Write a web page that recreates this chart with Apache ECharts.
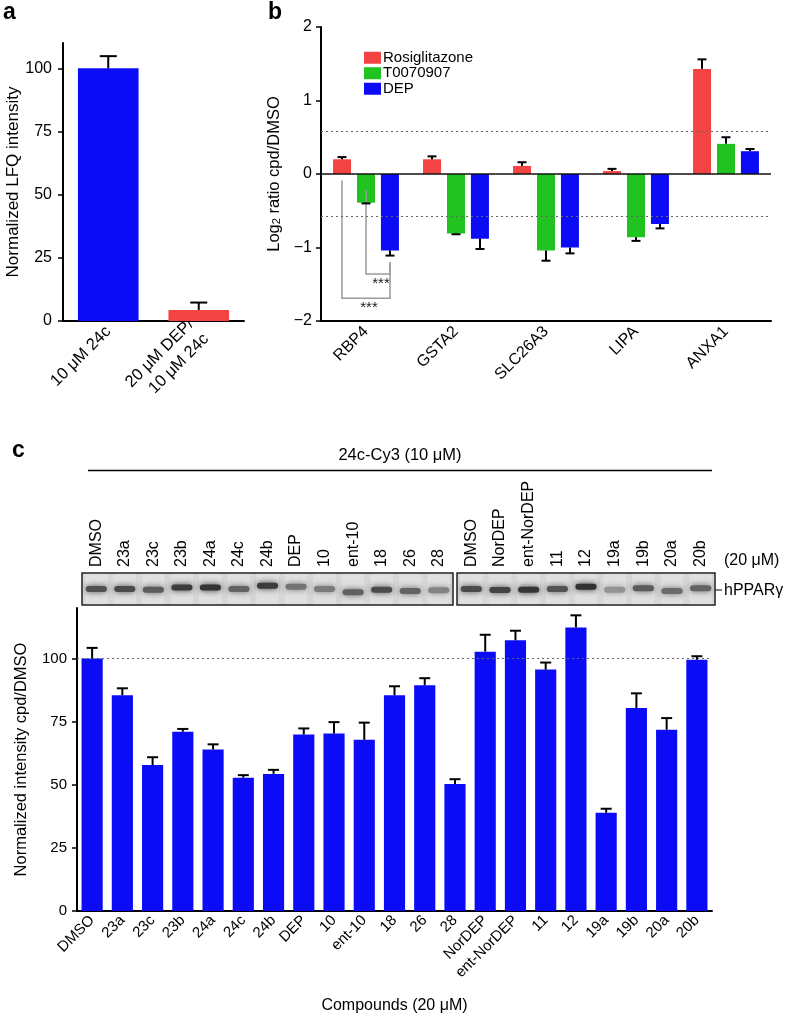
<!DOCTYPE html>
<html><head><meta charset="utf-8">
<script src="https://cdn.jsdelivr.net/npm/echarts@6/dist/echarts.min.js"></script>
<style>html,body{margin:0;padding:0;background:#fff}#c{width:788px;height:1015px}</style>
</head><body><div id="c"></div>
<script>
// ---------- DATA ----------
// Panel a
const aCats = ['10 μM 24c', '20 μM DEP/\n10 μM 24c'];
const aValues = [100, 4.4];
const aErrTop = [104.8, 7.3];
// Panel b
const bCats = ['RBP4', 'GSTA2', 'SLC26A3', 'LIPA', 'ANXA1'];
const bSeriesNames = ['Rosiglitazone', 'T0070907', 'DEP'];
const bRosi = [0.20, 0.20, 0.11, 0.04, 1.43];
const bRosiErr = [0.23, 0.24, 0.16, 0.07, 1.56];
const bT007 = [-0.39, -0.81, -1.04, -0.86, 0.41];
const bT007Err = [-0.40, -0.82, -1.18, -0.91, 0.50];
const bDEP = [-1.04, -0.88, -1.00, -0.68, 0.31];
const bDEPErr = [-1.11, -1.02, -1.08, -0.74, 0.34];
const bThreshold = 0.585; // log2(1.5)
// significance brackets: [category, fromSeries, toSeries, startY, bottomY, endY, label]
const bBrackets = [
  [0, 0, 2, -0.09, -1.69, -1.20, '***'],
  [0, 1, 2, -0.22, -1.36, -1.20, '***']
];
// Panel c gel
const gelLeftLanes = ['DMSO','23a','23c','23b','24a','24c','24b','DEP','10','ent-10','18','26','28'];
const gelLeftIntensity = [0.72,0.75,0.65,0.85,0.9,0.6,0.85,0.5,0.45,0.62,0.75,0.6,0.4];
const gelLeftPos = [0.5,0.5,0.48,0.55,0.55,0.5,0.6,0.57,0.5,0.4,0.48,0.44,0.46];
const gelRightLanes = ['DMSO','NorDEP','ent-NorDEP','11','12','19a','19b','20a','20b'];
const gelRightIntensity = [0.75,0.8,0.88,0.7,0.92,0.3,0.65,0.55,0.6];
const gelRightPos = [0.5,0.47,0.48,0.5,0.57,0.48,0.52,0.44,0.52];
// Panel c bars
const cCats = ['DMSO','23a','23c','23b','24a','24c','24b','DEP','10','ent-10','18','26','28','NorDEP','ent-NorDEP','11','12','19a','19b','20a','20b'];
const cValues = [100,85.4,57.8,71.0,64.0,52.8,54.3,69.9,70.3,67.8,85.4,89.4,50.3,102.7,107.2,95.6,112.3,38.9,80.4,71.8,99.5];
const cErrTop = [104.2,88.2,60.9,72.1,66.0,53.8,55.9,72.3,74.8,74.6,89.0,92.2,52.2,109.4,111.0,98.4,117.1,40.5,86.2,76.4,100.9];
const yTicksA = [0,25,50,75,100];
const yTicksC = [0,25,50,75,100];

// ---------- STYLE ----------
const FONT = 'Liberation Sans, Arial, Helvetica, sans-serif';
const BLUE = '#0b0cf5', RED = '#f44343', GREEN = '#20c320';
const aColors = [BLUE, RED];
const bColors = [RED, GREEN, BLUE];
const BW_B = 0.2, GAP_B = 0.0667; // fraction of band

const chart = echarts.init(document.getElementById('c'), null, {renderer: 'canvas'});

function errRender(capW, offsetFrac) {
  return function (params, api) {
    const x = api.value(0), v = api.value(1), e = api.value(2);
    const k = offsetFrac ? api.value(3) : 0;
    const band = api.size([1, 0])[0];
    const off = offsetFrac ? (k - 1) * offsetFrac * band : 0;
    const p0 = api.coord([x, v]), p1 = api.coord([x, e]);
    const cx = p0[0] + off;
    return {type: 'group', children: [
      {type: 'line', shape: {x1: cx, y1: p0[1], x2: cx, y2: p1[1]}, style: {stroke: '#000', lineWidth: 2}},
      {type: 'line', shape: {x1: cx - capW / 2, y1: p1[1], x2: cx + capW / 2, y2: p1[1]}, style: {stroke: '#000', lineWidth: 2}}
    ]};
  };
}

function gelRender(params, api) {
  const x = api.value(0), pos = api.value(1), inten = api.value(2);
  const p = api.coord([x, pos]);
  const band = api.size([1, 0])[0];
  const w = band * 0.74, h = 6;
  const g = Math.round(195 - 160 * inten);
  const col = 'rgb(' + g + ',' + g + ',' + g + ')';
  return {type: 'group', children: [
    {type: 'rect', shape: {x: p[0] - band / 2 + 3, y: api.coord([x, 1])[1] + 1, width: band - 6, height: api.size([0, 1])[1] - 2},
      style: {fill: 'rgba(255,255,255,0.22)', shadowBlur: 3, shadowColor: 'rgba(255,255,255,0.3)'}},
    {type: 'rect', shape: {x: p[0] - w / 2, y: p[1] - h / 2, width: w, height: h, r: 3},
      style: {fill: col, shadowBlur: 6, shadowColor: col}}
  ]};
}

const bErrData = [];
[[bRosi, bRosiErr], [bT007, bT007Err], [bDEP, bDEPErr]].forEach((pair, k) => {
  pair[0].forEach((v, i) => bErrData.push([i, v, pair[1][i], k]));
});

const axisBlack = {lineStyle: {color: '#000', width: 2}};
const tickBlack = {lineStyle: {color: '#000', width: 1.5}, length: 5};
const nameStyle = {fontSize: 17, color: '#000', fontFamily: FONT};

const option = {
  animation: false,
  textStyle: {fontFamily: FONT},
  legend: {
    data: bSeriesNames, orient: 'vertical', left: 359, top: 45,
    itemWidth: 17, itemHeight: 12, itemGap: 0, icon: 'rect',
    textStyle: {fontSize: 15, lineHeight: 15.5, color: '#000', fontFamily: FONT, padding: [0, 0, 0, -3]}
  },
  grid: [
    {left: 63, top: 43, width: 181, height: 278},
    {left: 321, top: 27, width: 450, height: 294},
    {left: 82, top: 573, width: 371, height: 32, show: true, backgroundColor: '#d6d6d6', borderColor: '#222', borderWidth: 1.5},
    {left: 457, top: 573, width: 258, height: 32, show: true, backgroundColor: '#d6d6d6', borderColor: '#222', borderWidth: 1.5},
    {left: 77, top: 608, width: 635, height: 303}
  ],
  xAxis: [
    {gridIndex: 0, type: 'category', data: aCats, axisLine: axisBlack, axisTick: Object.assign({alignWithLabel: true}, tickBlack),
      axisLabel: {rotate: 45, fontSize: 16.5, color: '#000', margin: 8, fontFamily: FONT, lineHeight: 21}},
    {gridIndex: 1, type: 'category', data: bCats, axisLine: Object.assign({onZero: false}, axisBlack), axisTick: Object.assign({alignWithLabel: true}, tickBlack),
      axisLabel: {rotate: 45, fontSize: 16, color: '#000', margin: 8, fontFamily: FONT}},
    {gridIndex: 2, type: 'category', data: gelLeftLanes, position: 'top', axisLine: {show: false}, axisTick: {show: false},
      axisLabel: {rotate: 90, fontSize: 16, color: '#000', margin: 6, interval: 0, fontFamily: FONT}},
    {gridIndex: 3, type: 'category', data: gelRightLanes, position: 'top', axisLine: {show: false}, axisTick: {show: false},
      axisLabel: {rotate: 90, fontSize: 16, color: '#000', margin: 6, interval: 0, fontFamily: FONT}},
    {gridIndex: 4, type: 'category', data: cCats, axisLine: axisBlack, axisTick: Object.assign({alignWithLabel: true, interval: 0}, tickBlack),
      name: 'Compounds (20 μM)', nameLocation: 'middle', nameGap: 87, nameTextStyle: {fontSize: 16, color: '#000', fontFamily: FONT},
      axisLabel: {rotate: 45, fontSize: 15, color: '#000', margin: 7, interval: 0, fontFamily: FONT}}
  ],
  yAxis: [
    {gridIndex: 0, type: 'value', min: 0, max: 110, interval: 25, splitLine: {show: false},
      axisLine: Object.assign({show: true}, axisBlack), axisTick: Object.assign({show: true, customValues: yTicksA}, tickBlack),
      axisLabel: {fontSize: 16, color: '#000', margin: 11, customValues: yTicksA, fontFamily: FONT},
      name: 'Normalized LFQ intensity', nameLocation: 'middle', nameGap: 30, nameTextStyle: nameStyle},
    {gridIndex: 1, type: 'value', min: -2, max: 2, interval: 1, splitLine: {show: false},
      axisLine: Object.assign({show: true, onZero: false}, axisBlack), axisTick: Object.assign({show: true}, tickBlack),
      axisLabel: {fontSize: 16, color: '#000', margin: 9, fontFamily: FONT, formatter: v => String(v).replace('-', '−')},
      name: 'Log{sub|2} ratio cpd/DMSO', nameLocation: 'middle', nameGap: 33,
      nameTextStyle: {fontSize: 16.5, color: '#000', fontFamily: FONT,
        rich: {sub: {fontSize: 11, fontFamily: FONT, color: '#000', verticalAlign: 'bottom', lineHeight: 11, padding: [6, 0, 0, 0]}}}},
    {gridIndex: 2, type: 'value', min: 0, max: 1, show: false},
    {gridIndex: 3, type: 'value', min: 0, max: 1, show: false},
    {gridIndex: 4, type: 'value', min: 0, max: 120, interval: 25, splitLine: {show: false},
      axisLine: Object.assign({show: true}, axisBlack), axisTick: Object.assign({show: true, customValues: yTicksC}, tickBlack),
      axisLabel: {fontSize: 15, color: '#000', margin: 10, customValues: yTicksC, fontFamily: FONT},
      name: 'Normalized intensity cpd/DMSO', nameLocation: 'middle', nameGap: 47, nameTextStyle: {fontSize: 16.5, color: '#000', fontFamily: FONT}}
  ],
  series: [
    {name: 'a', type: 'bar', xAxisIndex: 0, yAxisIndex: 0, barWidth: '67%',
      data: aValues.map((v, i) => ({value: v, itemStyle: {color: aColors[i]}}))},
    {type: 'custom', xAxisIndex: 0, yAxisIndex: 0, renderItem: errRender(17, 0), z: 5,
      data: aValues.map((v, i) => [i, v, aErrTop[i]])},
    {name: bSeriesNames[0], type: 'bar', xAxisIndex: 1, yAxisIndex: 1, barWidth: (BW_B * 100) + '%', barGap: '33%',
      itemStyle: {color: bColors[0]}, data: bRosi,
      markLine: {silent: true, symbol: 'none', label: {show: false}, data: [
        {yAxis: 0, lineStyle: {color: '#111', width: 1.5, type: 'solid'}},
        {yAxis: bThreshold, lineStyle: {color: '#666', width: 1.2, type: [2, 3]}},
        {yAxis: -bThreshold, lineStyle: {color: '#666', width: 1.2, type: [2, 3]}}
      ]}},
    {name: bSeriesNames[1], type: 'bar', xAxisIndex: 1, yAxisIndex: 1, barWidth: (BW_B * 100) + '%', barGap: '33%',
      itemStyle: {color: bColors[1]}, data: bT007},
    {name: bSeriesNames[2], type: 'bar', xAxisIndex: 1, yAxisIndex: 1, barWidth: (BW_B * 100) + '%', barGap: '33%',
      itemStyle: {color: bColors[2]}, data: bDEP},
    {type: 'custom', xAxisIndex: 1, yAxisIndex: 1, renderItem: errRender(9, BW_B + GAP_B), z: 5, data: bErrData},
    {type: 'custom', xAxisIndex: 1, yAxisIndex: 1, z: 4, data: bBrackets,
      renderItem: function (params, api) {
        const cat = api.value(0), f = api.value(1), t = api.value(2);
        const band = api.size([1, 0])[0];
        const step = (BW_B + GAP_B) * band;
        const c0 = api.coord([cat, 0])[0];
        const x1 = c0 + (f - 1) * step, x2 = c0 + (t - 1) * step;
        const ys = api.coord([cat, api.value(3)])[1], yb = api.coord([cat, api.value(4)])[1], ye = api.coord([cat, api.value(5)])[1];
        return {type: 'group', children: [
          {type: 'polyline', shape: {points: [[x1, ys], [x1, yb], [x2, yb], [x2, ye]]}, style: {stroke: '#9a9a9a', lineWidth: 1.5, fill: null}},
          {type: 'text', style: {text: bBrackets[params.dataIndex][6], x: (x1 + x2) / 2 + 3, y: yb + 10, align: 'center', verticalAlign: 'middle', fontSize: 15, fill: '#222', fontFamily: FONT}}
        ]};
      }},
    {type: 'custom', xAxisIndex: 2, yAxisIndex: 2, renderItem: gelRender,
      data: gelLeftLanes.map((n, i) => [i, gelLeftPos[i], gelLeftIntensity[i]])},
    {type: 'custom', xAxisIndex: 3, yAxisIndex: 3, renderItem: gelRender,
      data: gelRightLanes.map((n, i) => [i, gelRightPos[i], gelRightIntensity[i]])},
    {name: 'c', type: 'bar', xAxisIndex: 4, yAxisIndex: 4, barWidth: '70%', itemStyle: {color: BLUE}, data: cValues,
      markLine: {silent: true, symbol: 'none', label: {show: false}, data: [
        {yAxis: 100, lineStyle: {color: '#666', width: 1.2, type: [2, 3]}}
      ]}},
    {type: 'custom', xAxisIndex: 4, yAxisIndex: 4, renderItem: errRender(11, 0), z: 5,
      data: cValues.map((v, i) => [i, v, cErrTop[i]])}
  ],
  graphic: [
    {type: 'text', left: 3, top: 1, style: {text: 'a', fontSize: 23, fontWeight: 'bold', fill: '#000', fontFamily: FONT}},
    {type: 'text', left: 268, top: 1, style: {text: 'b', fontSize: 23, fontWeight: 'bold', fill: '#000', fontFamily: FONT}},
    {type: 'text', left: 12, top: 439, style: {text: 'c', fontSize: 23, fontWeight: 'bold', fill: '#000', fontFamily: FONT}},
    {type: 'text', x: 400, y: 455, style: {text: '24c-Cy3 (10 μM)', align: 'center', verticalAlign: 'middle', fontSize: 16.5, fill: '#000', fontFamily: FONT}},
    {type: 'line', shape: {x1: 88, y1: 470.5, x2: 712, y2: 470.5}, style: {stroke: '#000', lineWidth: 1.3}},
    {type: 'text', x: 724, y: 561, style: {text: '(20 μM)', align: 'left', verticalAlign: 'middle', fontSize: 16, fill: '#000', fontFamily: FONT}},
    {type: 'line', shape: {x1: 715, y1: 590, x2: 722, y2: 590}, style: {stroke: '#000', lineWidth: 1}},
    {type: 'text', x: 724, y: 591, style: {text: 'hPPARγ', align: 'left', verticalAlign: 'middle', fontSize: 16, fill: '#000', fontFamily: FONT}}
  ]
};
chart.setOption(option);
</script></body></html>
